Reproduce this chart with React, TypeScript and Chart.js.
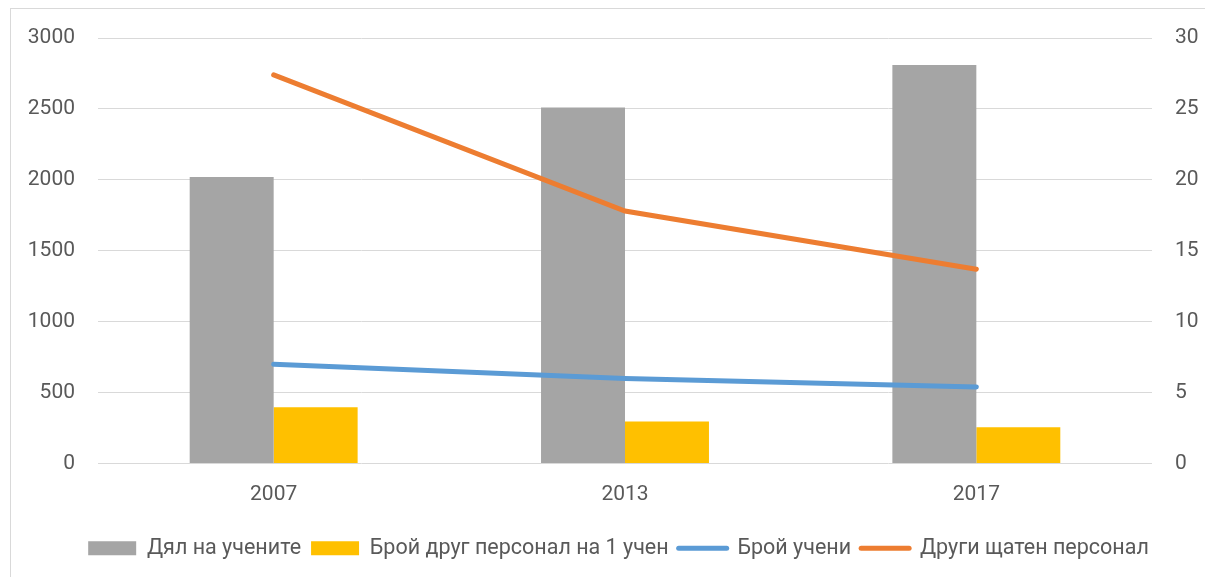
import React, { useEffect, useRef } from "react";
import { Chart, registerables } from "chart.js";

Chart.register(...registerables);

const categories = ["2007", "2013", "2017"];
const shareOfStudents = [2020, 2510, 2810];
const otherStaffPerStudent = [396, 297, 255];
const numberOfStudents = [7.0, 6.0, 5.4];
const otherStaff = [27.4, 17.8, 13.7];

const leftTicks = [0, 500, 1000, 1500, 2000, 2500, 3000];
const rightTicks = [0, 5, 10, 15, 20, 25, 30];

const FONT = "Roboto";
const TICK_COLOR = "#595959";

export default function App() {
  const ref = useRef<HTMLCanvasElement | null>(null);

  useEffect(() => {
    if (!ref.current) return;
    const chart = new Chart(ref.current, {
      type: "bar",
      data: {
        labels: categories,
        datasets: [
          {
            type: "bar",
            label: "Дял на учените",
            data: shareOfStudents,
            backgroundColor: "#A5A5A5",
            borderWidth: 0,
            yAxisID: "y",
            order: 2,
            categoryPercentage: 0.478,
            barPercentage: 1,
          },
          {
            type: "bar",
            label: "Брой друг персонал на 1 учен",
            data: otherStaffPerStudent,
            backgroundColor: "#FFC000",
            borderWidth: 0,
            yAxisID: "y",
            order: 2,
            categoryPercentage: 0.478,
            barPercentage: 1,
          },
          {
            type: "line",
            label: "Брой учени",
            data: numberOfStudents,
            borderColor: "#5B9BD5",
            backgroundColor: "#5B9BD5",
            borderWidth: 5,
            borderCapStyle: "round",
            pointRadius: 0,
            yAxisID: "y1",
            order: 1,
            tension: 0,
          },
          {
            type: "line",
            label: "Други щатен персонал",
            data: otherStaff,
            borderColor: "#ED7D31",
            backgroundColor: "#ED7D31",
            borderWidth: 5,
            borderCapStyle: "round",
            pointRadius: 0,
            yAxisID: "y1",
            order: 1,
            tension: 0,
          },
        ],
      },
      options: {
        animation: false,
        responsive: false,
        maintainAspectRatio: false,
        layout: { padding: { top: 38, bottom: 8, left: 0, right: -32 } },
        plugins: {
          title: { display: false },
          tooltip: { enabled: false },
          legend: {
            position: "bottom",
            labels: {
              usePointStyle: true,
              pointStyleWidth: 48,
              boxHeight: 14,
              padding: 10,
              color: TICK_COLOR,
              font: { family: FONT, size: 21.5 },
              sort: (a: any, b: any) => a.datasetIndex - b.datasetIndex,
              generateLabels: (c: any) => {
                const items = Chart.defaults.plugins.legend.labels.generateLabels(c);
                return items.map((it: any) => {
                  const ds: any = c.data.datasets[it.datasetIndex];
                  if (ds.type === "bar") {
                    return { ...it, pointStyle: "rect", lineWidth: 0, fillStyle: ds.backgroundColor, strokeStyle: ds.backgroundColor };
                  }
                  return { ...it, pointStyle: "line", lineWidth: 5, lineCap: "round", strokeStyle: ds.borderColor, fillStyle: ds.borderColor };
                });
              },
            },
          },
        },
        scales: {
          x: {
            grid: { display: false },
            border: { display: false },
            ticks: { color: TICK_COLOR, font: { family: FONT, size: 21 }, padding: 11 },
            afterFit: (s: any) => {
              s.height = 64;
            },
          },
          y: {
            position: "left",
            min: 0,
            max: 3000,
            afterBuildTicks: (s: any) => {
              s.ticks = leftTicks.map((v) => ({ value: v }));
            },
            grid: { color: "#D9D9D9", lineWidth: 1, drawTicks: false },
            border: { display: false },
            ticks: {
              color: TICK_COLOR,
              font: { family: FONT, size: 21 },
              padding: 23,
              callback: (v: any) => String(v),
            },
            afterFit: (s: any) => {
              s.width = 98;
            },
          },
          y1: {
            position: "right",
            min: 0,
            max: 30,
            afterBuildTicks: (s: any) => {
              s.ticks = rightTicks.map((v) => ({ value: v }));
            },
            grid: { display: false, drawTicks: false },
            border: { display: false },
            ticks: {
              color: TICK_COLOR,
              font: { family: FONT, size: 21 },
              padding: 23,
              callback: (v: any) => String(v),
            },
            afterFit: (s: any) => {
              s.width = 85;
            },
          },
        },
      },
    });
    return () => chart.destroy();
  }, []);

  return (
    <div style={{ position: "absolute", left: 0, top: 0, width: 1205, height: 577, overflow: "hidden", background: "#fff" }}>
      <div
        style={{
          position: "absolute",
          left: 10,
          top: 8,
          width: 1200,
          height: 600,
          border: "1px solid #D9D9D9",
          boxSizing: "border-box",
        }}
      />
      <canvas ref={ref} width={1205} height={577} style={{ position: "absolute", left: 0, top: 0 }} />
    </div>
  );
}
